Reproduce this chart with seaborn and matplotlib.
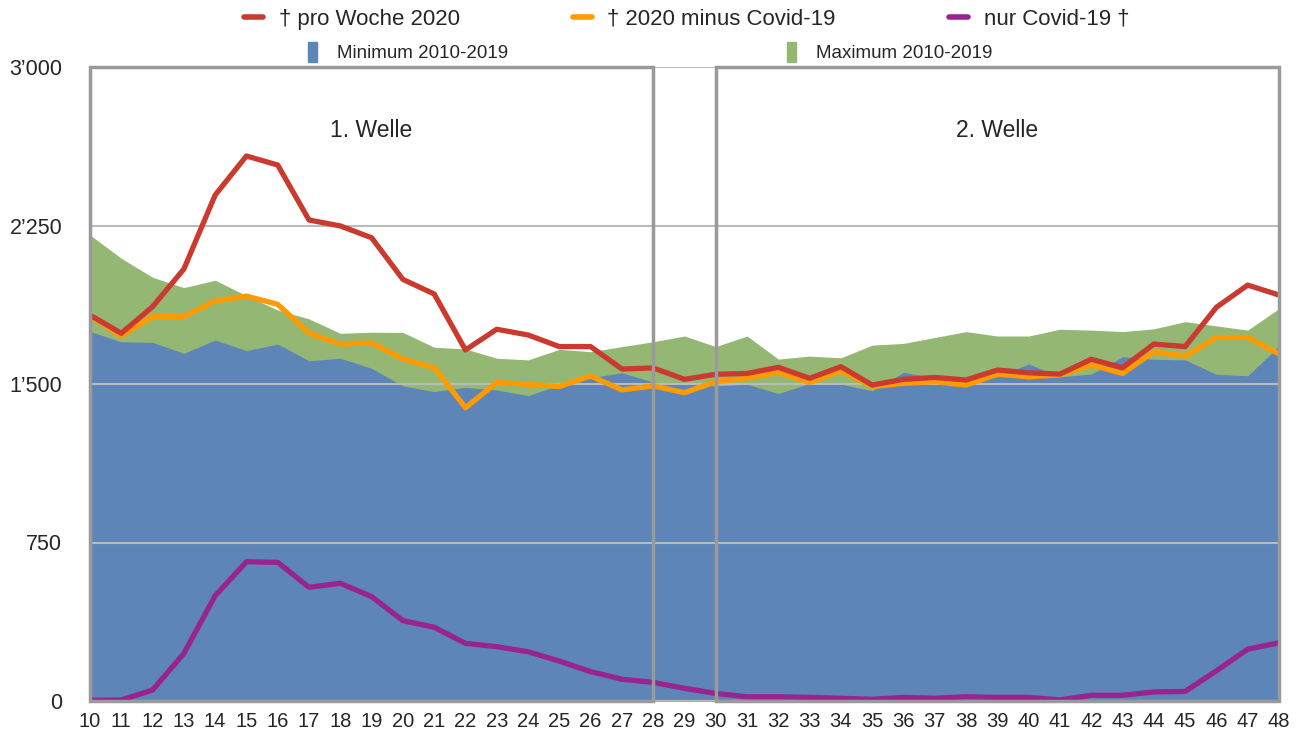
import matplotlib.pyplot as plt
import matplotlib.patches as mpatches
from matplotlib.lines import Line2D
import seaborn as sns
import pandas as pd

weeks = list(range(10, 49))

# † pro Woche 2020
total_2020 = [1826, 1740, 1866, 2044, 2394, 2579, 2536, 2276, 2248, 2192,
              1995, 1926, 1661, 1759, 1732, 1677, 1677, 1571, 1576, 1522,
              1546, 1550, 1579, 1527, 1582, 1495, 1522, 1531, 1519, 1566,
              1553, 1547, 1617, 1577, 1689, 1677, 1863, 1968, 1921]
# † 2020 minus Covid-19
minus_covid = [1823, 1727, 1819, 1819, 1893, 1916, 1877, 1740, 1689, 1695,
               1618, 1577, 1388, 1507, 1499, 1488, 1538, 1472, 1491, 1459,
               1511, 1527, 1555, 1507, 1562, 1488, 1503, 1511, 1495, 1547,
               1534, 1543, 1590, 1550, 1653, 1632, 1720, 1720, 1642]
# nur Covid-19 †
covid_only = [3, 5, 52, 225, 498, 659, 656, 538, 557, 494,
              380, 349, 273, 257, 233, 189, 139, 103, 88, 60,
              36, 20, 20, 17, 13, 8, 17, 13, 20, 17,
              17, 5, 27, 27, 43, 45, 143, 245, 276]
# Minimum / Maximum 2010-2019
min_10_19 = [1748, 1700, 1697, 1645, 1708, 1658, 1689, 1610, 1622, 1574,
             1491, 1464, 1484, 1472, 1445, 1495, 1530, 1553, 1509, 1500,
             1491, 1499, 1455, 1503, 1499, 1468, 1555, 1530, 1522, 1534,
             1595, 1534, 1547, 1629, 1617, 1614, 1546, 1539, 1680]
max_10_19 = [2205, 2095, 2005, 1956, 1991, 1918, 1850, 1808, 1740, 1745,
             1744, 1674, 1666, 1622, 1614, 1664, 1653, 1677, 1700, 1727,
             1677, 1727, 1618, 1632, 1624, 1684, 1692, 1720, 1748, 1727,
             1727, 1759, 1755, 1748, 1761, 1795, 1775, 1755, 1857]

y_ticks = [0, 750, 1500, 2250, 3000]
y_tick_labels = ["0", "750", "1\u2019500", "2\u2019250", "3\u2019000"]

df = pd.DataFrame({
    "week": weeks,
    "total": total_2020,
    "minus": minus_covid,
    "covid": covid_only,
    "min": min_10_19,
    "max": max_10_19,
})

sns.set_style("white")
plt.rcParams['font.family'] = ['Liberation Sans', 'DejaVu Sans']

RED = "#CB3A2E"
ORANGE = "#FF9A00"
PURPLE = "#99238F"
BLUE = "#5E85B7"
GREEN = "#94B874"
GRID = "#BBBBBB"
BOX = "#9A9A9A"

fig = plt.figure(figsize=(13.06, 7.36), dpi=100)
ax = fig.add_axes([90 / 1306, 35 / 736, 1189 / 1306, 634 / 736])

# areas: max behind, min on top
ax.fill_between(df["week"], 0, df["max"], color=GREEN, lw=0, zorder=1)
ax.fill_between(df["week"], 0, df["min"], color=BLUE, lw=0, zorder=2)

for y in y_ticks:
    ax.axhline(y, color=GRID, lw=1.5, zorder=2.5)

sns.lineplot(data=df, x="week", y="total", color=RED, lw=3.8, ax=ax, zorder=5)
sns.lineplot(data=df, x="week", y="minus", color=ORANGE, lw=3.8, ax=ax, zorder=4)
sns.lineplot(data=df, x="week", y="covid", color=PURPLE, lw=3.8, ax=ax, zorder=4)

# wave boxes
ax.add_patch(mpatches.Rectangle((10, 0), 18, 3000, fill=False, ec=BOX, lw=2.5, zorder=6, clip_on=False))
ax.add_patch(mpatches.Rectangle((30, 0), 18, 3000, fill=False, ec=BOX, lw=2.5, zorder=6, clip_on=False))
ax.text(19, 2700, "1. Welle", ha="center", va="center", fontsize=16.5)
ax.text(39, 2700, "2. Welle", ha="center", va="center", fontsize=16.5)

ax.set_xlim(10, 48)
ax.set_ylim(0, 3000)
ax.set_xticks(weeks)
ax.set_xticklabels([str(w) for w in weeks], fontsize=14.5)
ax.set_yticks(y_ticks)
ax.set_yticklabels(y_tick_labels, fontsize=15.5)
ax.tick_params(axis="x", length=0, pad=8)
ax.tick_params(axis="y", length=0, pad=20)
ax.set_xlabel("")
ax.set_ylabel("")
for s in ax.spines.values():
    s.set_visible(False)

line_handles = [
    Line2D([], [], color=RED, lw=4),
    Line2D([], [], color=ORANGE, lw=4),
    Line2D([], [], color=PURPLE, lw=4),
]
leg1 = fig.legend(line_handles,
                  ["\u2020 pro Woche 2020", "\u2020 2020 minus Covid-19", "nur Covid-19 \u2020"],
                  loc="center", bbox_to_anchor=(0.5257, 0.974), ncol=3, frameon=False,
                  fontsize=16, handlelength=0.85, handletextpad=0.7, columnspacing=5.1)
patch_handles = [
    mpatches.Patch(color=BLUE),
    mpatches.Patch(color=GREEN),
]
leg2 = fig.legend(patch_handles, ["Minimum 2010-2019", "Maximum 2010-2019"],
                  loc="center", bbox_to_anchor=(0.4977, 0.929), ncol=2, frameon=False,
                  fontsize=13.5, handlelength=0.48, handleheight=1.25, handletextpad=1.05,
                  columnspacing=14.9)

fig.savefig("out.png", dpi=100)
